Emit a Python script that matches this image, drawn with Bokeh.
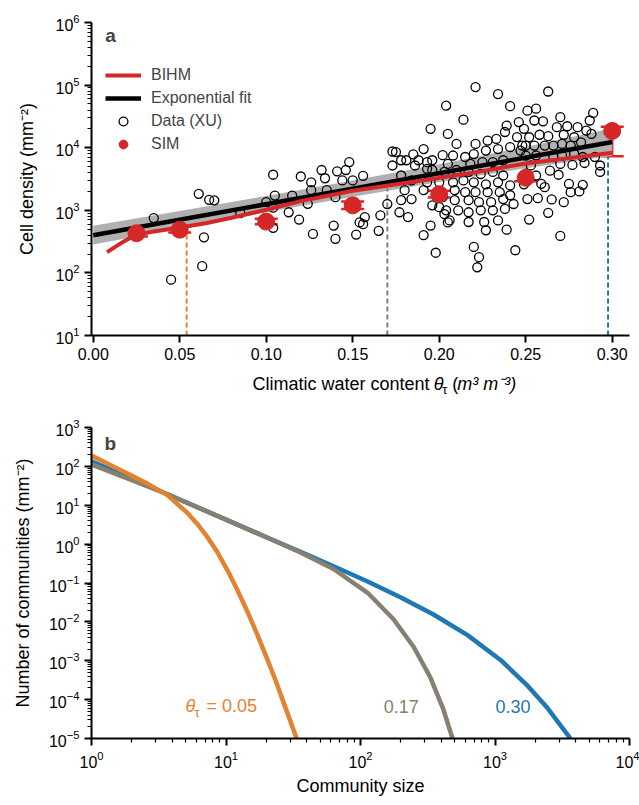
from bokeh.plotting import figure
from bokeh.models import (ColumnDataSource, FixedTicker, NumeralTickFormatter, Legend,
                          LegendItem, Whisker, TeeHead, Label, Range1d)
from bokeh.layouts import column
from bokeh.embed import file_html
from bokeh.resources import INLINE
from bokeh.core.properties import value

FONT = "Liberation Sans"
RED = "#d62728"
ORANGE = "#e3832f"
GRAY = "#85806f"
BLUE = "#1f77b4"
BAND = "#b0b0b0"

# ------------------------------------------------------------------ data (panel a)
xu_theta = [
    0.035, 0.061, 0.067, 0.070, 0.064, 0.063, 0.045, 0.104, 0.105, 0.100, 0.104, 0.085, 0.104, 0.113, 0.115, 0.120, 0.119,
    0.126, 0.126, 0.124, 0.127, 0.132, 0.134, 0.135, 0.141, 0.146, 0.148, 0.144, 0.150, 0.156, 0.140, 0.139, 0.140, 0.152,
    0.154, 0.156, 0.157, 0.165, 0.166, 0.170, 0.173, 0.175, 0.173, 0.178, 0.181, 0.185, 0.191, 0.188, 0.186, 0.193, 0.196,
    0.202, 0.205, 0.180, 0.178, 0.184, 0.177, 0.182, 0.195, 0.205, 0.204, 0.195, 0.191, 0.198, 0.196, 0.200, 0.203, 0.205,
    0.191, 0.178, 0.184,
    0.221, 0.234, 0.241, 0.214, 0.210, 0.239, 0.246, 0.238, 0.221, 0.228, 0.233, 0.245, 0.250, 0.220, 0.227, 0.234, 0.241,
    0.247, 0.208, 0.215, 0.193, 0.218, 0.225, 0.231, 0.237, 0.196, 0.203, 0.210, 0.217, 0.224, 0.231, 0.237, 0.193, 0.200,
    0.208, 0.214, 0.220, 0.227, 0.234, 0.241, 0.249, 0.209, 0.215, 0.221, 0.228, 0.235, 0.241, 0.202, 0.209, 0.217, 0.223,
    0.230, 0.237, 0.243, 0.204, 0.211, 0.217, 0.224, 0.231, 0.238, 0.206, 0.217, 0.226, 0.234, 0.227, 0.239, 0.220, 0.223,
    0.222, 0.244, 0.252, 0.251,
    0.263, 0.251, 0.256, 0.270, 0.289, 0.287, 0.255, 0.260, 0.268, 0.274, 0.280, 0.285, 0.249, 0.252, 0.258, 0.263, 0.272,
    0.278, 0.288, 0.248, 0.255, 0.261, 0.266, 0.271, 0.276, 0.282, 0.250, 0.256, 0.266, 0.271, 0.278, 0.283, 0.290, 0.253,
    0.264, 0.270, 0.277, 0.284, 0.293, 0.293, 0.256, 0.269, 0.249, 0.259, 0.261, 0.275, 0.276, 0.283, 0.281, 0.257, 0.265,
    0.272, 0.263, 0.270,
]
xu_density = [
    750, 1830, 1470, 1440, 370, 128, 78, 3700, 1720, 1350, 1100, 900, 525, 930, 1720, 3470, 710,
    2800, 2100, 1270, 420, 4400, 3250, 2100, 4200, 4400, 5900, 3000, 3000, 3550, 1620, 570, 350, 410,
    640, 600, 780, 470, 830, 1260, 8700, 8500, 5200, 6300, 6300, 7800, 9500, 6300, 5200, 4600, 6300,
    7600, 5500, 2100, 1450, 1510, 930, 780, 20000, 16600, 47000, 570, 400, 210, 1200, 1120, 870, 640,
    2100, 3600, 3000,
    93000, 72000, 46000, 28000, 11500, 22600, 25700, 17800, 11500, 13000, 13800, 14800, 10800, 7900, 9000, 9500, 10200,
    9000, 7500, 7100, 5900, 5500, 5900, 5900, 6300, 4400, 4100, 4400, 4100, 3800, 4100, 3600, 2800, 2800,
    2800, 3000, 2800, 2600, 2800, 2500, 2600, 2100, 1950, 1950, 1950, 1950, 1740, 1620, 1450, 1450, 1350,
    1350, 1510, 1260, 1000, 1000, 930, 1000, 1000, 1050, 690, 650, 650, 690, 480, 490, 260, 178,
    123, 230, 710, 1510,
    79000, 39000, 42000, 30700, 36000, 27200, 27200, 26400, 21300, 22000, 21300, 18800, 20000, 14700, 16100, 15300, 16100,
    14700, 16600, 10800, 10800, 10800, 10800, 11500, 10800, 12200, 7500, 7500, 7100, 7500, 8000, 7100, 7100, 5200,
    4300, 5500, 5300, 5700, 5200, 4100, 3600, 3700, 3600, 2650, 2340, 2650, 1950, 2550, 2000, 1560, 1490,
    1350, 910, 390,
]

fit_theta = [0.0, 0.30]
fit_density = [400, 12300]

band_theta = [0.0, 0.05, 0.10, 0.15, 0.20, 0.25, 0.30]
band_lower = [283, 513, 933, 1644, 2844, 4699, 7413]
band_upper = [565, 977, 1698, 2992, 5420, 10280, 20420]

bihm_theta = [0.008, 0.017, 0.024, 0.035, 0.05, 0.065, 0.08, 0.10, 0.12, 0.15, 0.19, 0.22, 0.25, 0.30]
bihm_density = [215, 310, 400, 460, 530, 620, 760, 1020, 1400, 2050, 3000, 4000, 5600, 8300]

sim_theta = [0.025, 0.05, 0.10, 0.15, 0.20, 0.25, 0.30]
sim_density = [430, 490, 660, 1200, 1800, 3300, 18500]
sim_lower = [380, 440, 600, 1050, 1600, 2900, 7300]
sim_upper = [490, 550, 730, 1380, 2050, 6300, 21600]

cut_theta = [0.054, 0.17, 0.2976]
cut_top = [480, 2250, 7100]
cut_bottom = [10, 10, 10]

# ------------------------------------------------------------------ data (panel b)
size_005 = [1, 1.38, 1.95, 2.6, 3.67, 5.17, 6.1, 7.28, 8.6, 10.3, 12.1, 14.5, 17.1, 20.4, 23.3, 26.8, 33.5]
count_005 = [189, 109, 60, 36, 18.2, 6.3, 3.36, 1.51, 0.638, 0.206, 0.068, 0.0177, 0.0047, 1.04e-3, 3.2e-4, 8.5e-5, 1.0e-5]

size_017 = [1, 1.95, 3.67, 9.9, 20.4, 35.8, 63, 113, 176, 248, 331, 414, 483]
count_017 = [112, 45.7, 19.2, 4.33, 1.46, 0.61, 0.229, 0.056, 0.0117, 0.00229, 3.7e-4, 5.5e-5, 1.0e-5]

size_030 = [1, 1.95, 3.67, 9.9, 20.4, 35.8, 63, 113, 198, 349, 625, 1099, 1745, 2457, 3640]
count_030 = [135, 49.5, 19.2, 4.33, 1.46, 0.63, 0.27, 0.109, 0.043, 0.0155, 0.00457, 1.05e-3, 2.29e-4, 6.07e-5, 1.0e-5]

cut_labels = ["0.05", "0.17", "0.30"]


# ------------------------------------------------------------------ helpers
def log_minor(k0, k1):
    return [m * 10.0 ** k for k in range(k0, k1) for m in range(2, 10)]


def style(p):
    p.outline_line_color = None
    p.grid.visible = False
    p.background_fill_color = "white"
    p.border_fill_color = "white"
    for ax in p.axis:
        ax.axis_line_width = 2
        ax.axis_line_color = "black"
        ax.major_tick_line_width = 2
        ax.minor_tick_line_width = 1.2
        ax.major_tick_out = 7
        ax.major_tick_in = 0
        ax.minor_tick_out = 4
        ax.minor_tick_in = 0
        ax.major_label_text_font = FONT
        ax.major_label_text_font_size = "16px"
        ax.major_label_text_color = "black"
        ax.major_label_standoff = 5
        ax.axis_label_text_font = FONT
        ax.axis_label_text_font_size = "18px"
        ax.axis_label_text_font_style = "normal"
        ax.axis_label_text_color = "black"


def strip(w, h):
    s = figure(width=w, height=h, x_range=Range1d(0, w), y_range=Range1d(0, h),
               x_axis_location=None, y_axis_location=None, output_backend="svg",
               toolbar_location=None, min_border=0)
    s.outline_line_color = None
    s.grid.visible = False
    s.background_fill_color = "white"
    s.border_fill_color = "white"
    return s


def put(s, x, y, txt, size="18px", st="normal", align="left", color="black"):
    s.text(x=[x], y=[y], text=[txt], text_font=value(FONT), text_font_size=size,
           text_font_style=st, text_align=align, text_baseline="middle", text_color=color)


# ------------------------------------------------------------------ panel a
pa = figure(width=639, height=367, x_range=Range1d(-0.001, 0.31), y_range=Range1d(10, 1e6),
            y_axis_type="log", output_backend="svg", toolbar_location=None,
            min_border_left=89, min_border_right=10, min_border_top=22, min_border_bottom=32)
style(pa)
pa.xaxis.ticker = FixedTicker(ticks=[0.0, 0.05, 0.10, 0.15, 0.20, 0.25, 0.30], minor_ticks=[])
pa.xaxis.formatter = NumeralTickFormatter(format="0.00")
pa.yaxis.ticker = FixedTicker(ticks=[1e1, 1e2, 1e3, 1e4, 1e5, 1e6], minor_ticks=log_minor(1, 6))
pa.yaxis.axis_label = "Cell density (mm⁻²)"
pa.yaxis.axis_label_standoff = 15

pa.varea(x=band_theta, y1=band_lower, y2=band_upper, fill_color=BAND, fill_alpha=1.0)
for xc, top, bot, col in zip(cut_theta, cut_top, cut_bottom, [ORANGE, GRAY, BLUE]):
    pa.line(x=[xc, xc], y=[bot, top], line_color=col, line_width=2, line_dash="5 3")

r_xu = pa.scatter(x=xu_theta, y=xu_density, marker="circle", size=9, fill_alpha=0,
                  line_color="black", line_width=1.3)
r_fit = pa.line(x=fit_theta, y=fit_density, line_color="black", line_width=4.5)
r_bihm = pa.line(x=bihm_theta, y=bihm_density, line_color=RED, line_width=4)

sim_src = ColumnDataSource(dict(x=sim_theta, y=sim_density, lo=sim_lower, hi=sim_upper))
wh = Whisker(base="x", upper="hi", lower="lo", source=sim_src, line_color=RED, line_width=2.5,
             upper_head=TeeHead(size=23, line_color=RED, line_width=2.5),
             lower_head=TeeHead(size=23, line_color=RED, line_width=2.5))
pa.add_layout(wh)
r_sim = pa.scatter(x="x", y="y", source=sim_src, marker="circle", size=17,
                   fill_color=RED, line_color=RED)

leg = Legend(items=[LegendItem(label="BIHM", renderers=[r_bihm]),
                    LegendItem(label="Exponential fit", renderers=[r_fit]),
                    LegendItem(label="Data (XU)", renderers=[r_xu]),
                    LegendItem(label="SIM", renderers=[r_sim])],
             location=(14, 180), padding=0, margin=0, spacing=1,
             glyph_width=36, glyph_height=22, label_height=22, label_standoff=10,
             label_text_font=FONT, label_text_font_size="16px",
             border_line_color=None, background_fill_alpha=0)
pa.add_layout(leg)

pa.add_layout(Label(x=0.007, y=6.2e5, text="a", text_font=FONT, text_font_size="19px",
                    text_font_style="bold", text_baseline="middle"))

# x-axis title of panel a (strip below the axis, so that θ can carry a subscript τ)
xa = strip(639, 30)
A = 406.5
put(xa, A - 5, 14, "Climatic water content", align="right")
put(xa, A, 14, "θ", st="italic")
put(xa, A + 10, 8, "τ", size="13px")
put(xa, A + 22, 14, "(")
put(xa, A + 28, 14, "m³ m⁻³)", st="italic")

# ------------------------------------------------------------------ panel b
pb = figure(width=639, height=408, x_axis_type="log", y_axis_type="log",
            x_range=Range1d(1, 1e4), y_range=Range1d(1e-5, 1e3),
            output_backend="svg", toolbar_location=None,
            min_border_left=91, min_border_right=10, min_border_top=30, min_border_bottom=67)
style(pb)
pb.xaxis.ticker = FixedTicker(ticks=[1, 1e1, 1e2, 1e3, 1e4], minor_ticks=log_minor(0, 4))
pb.yaxis.ticker = FixedTicker(ticks=[10.0 ** k for k in range(-5, 4)], minor_ticks=log_minor(-5, 3))
pb.xaxis.axis_label = "Community size"
pb.yaxis.axis_label = "Number of communities (mm⁻²)"
pb.yaxis.axis_label_standoff = 13

pb.line(x=size_030, y=count_030, line_color=BLUE, line_width=4.5)
pb.line(x=size_017, y=count_017, line_color=GRAY, line_width=4.5)
pb.line(x=size_005, y=count_005, line_color=ORANGE, line_width=4.5)

ly = 6.8e-5
pb.text(x=[5.0], y=[ly], text=["θ"], text_color=ORANGE, text_font=value(FONT), text_font_size="18px",
        text_font_style="italic", text_baseline="middle", text_align="left")
pb.text(x=[5.0], y=[ly], text=["τ"], text_color=ORANGE, text_font=value(FONT), text_font_size="13px",
        text_baseline="middle", text_align="left", x_offset=9, y_offset=6)
pb.text(x=[5.0], y=[ly], text=["= " + cut_labels[0]], text_color=ORANGE, text_font=value(FONT),
        text_font_size="18px", text_baseline="middle", text_align="left", x_offset=21)
pb.text(x=[149], y=[ly], text=[cut_labels[1]], text_color=GRAY, text_font=value(FONT),
        text_font_size="18px", text_baseline="middle", text_align="left")
pb.text(x=[1009], y=[ly], text=[cut_labels[2]], text_color=BLUE, text_font=value(FONT),
        text_font_size="18px", text_baseline="middle", text_align="left")

pb.add_layout(Label(x=1.25, y=390, text="b", text_font=FONT, text_font_size="19px",
                    text_font_style="bold", text_baseline="middle"))

layout = column(pa, xa, pb, spacing=0)
open("out.html", "w").write(file_html(layout, INLINE))
